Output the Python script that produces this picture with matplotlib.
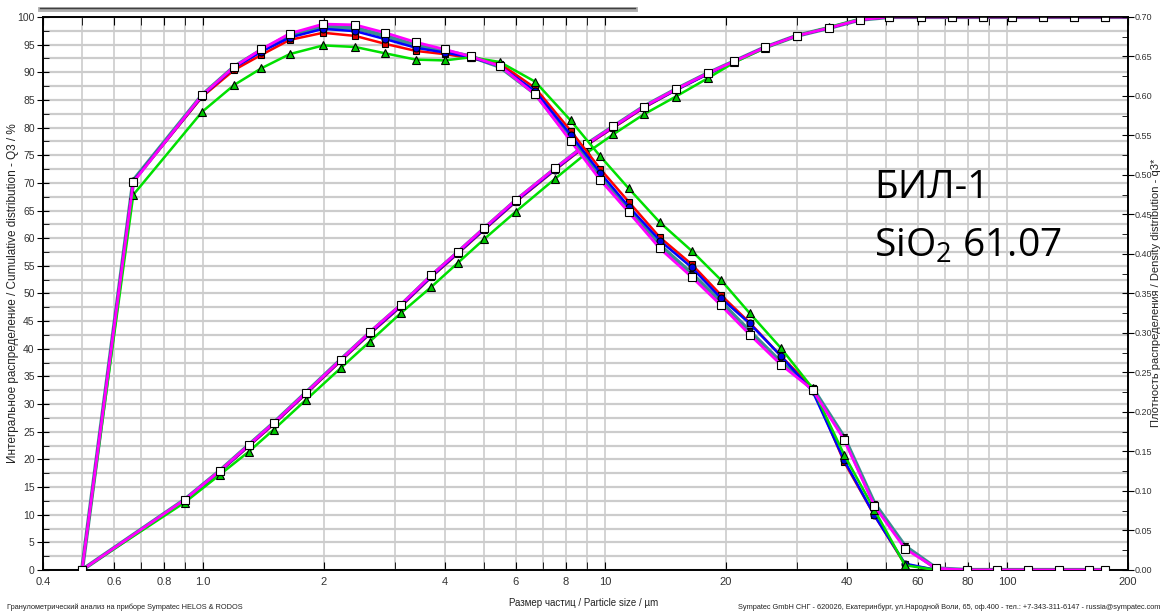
import numpy as np
import matplotlib
matplotlib.use("Agg")
import matplotlib.pyplot as plt
from matplotlib.lines import Line2D
from matplotlib.ticker import FixedLocator, FixedFormatter, LogLocator, MultipleLocator, FormatStrFormatter, NullFormatter

plt.rcParams["font.family"] = ["Liberation Sans Narrow", "Liberation Sans", "DejaVu Sans"]
plt.rcParams["mathtext.fontset"] = "custom"
plt.rcParams["mathtext.rm"] = "Open Sans"
plt.rcParams["mathtext.default"] = "regular"

# class upper bounds, µm (cumulative Q3 is plotted at these)
size_bounds = [0.5, 0.9, 1.1, 1.3, 1.5, 1.8, 2.2, 2.6, 3.1, 3.7, 4.3, 5.0, 6.0, 7.5, 9.0, 10.5,
               12.5, 15.0, 18.0, 21.0, 25.0, 30.0, 36.0, 43.0, 51.0, 61.0, 73.0, 87.0, 103.0,
               123.0, 147.0, 175.0]

# cumulative distribution Q3, %
cum_red = [0, 12.6, 17.8, 22.4, 26.4, 31.8, 37.8, 42.7, 47.6, 53.0, 57.2, 61.5, 66.6, 72.3, 76.8,
           80.0, 83.6, 86.8, 89.7, 92.0, 94.5, 96.6, 98.0, 99.5, 100, 100, 100, 100, 100, 100, 100, 100]
cum_blue = [0, 12.6, 17.8, 22.5, 26.5, 31.9, 37.9, 42.8, 47.7, 53.1, 57.3, 61.6, 66.7, 72.4, 76.9,
            80.1, 83.7, 86.8, 89.7, 92.0, 94.5, 96.6, 98.0, 99.5, 100, 100, 100, 100, 100, 100, 100, 100]
cum_teal = [0, 12.7, 17.9, 22.6, 26.6, 32.0, 38.0, 42.9, 47.8, 53.2, 57.4, 61.7, 66.8, 72.5, 77.0,
            80.2, 83.8, 86.9, 89.8, 92.0, 94.5, 96.6, 98.0, 99.5, 100, 100, 100, 100, 100, 100, 100, 100]
cum_green = [0, 12.2, 17.2, 21.4, 25.4, 30.7, 36.5, 41.3, 46.4, 51.2, 55.5, 59.8, 64.8, 70.7, 75.4,
             78.8, 82.4, 85.6, 88.9, 91.8, 94.4, 96.6, 98.1, 99.6, 100, 100, 100, 100, 100, 100, 100, 100]
cum_magenta = [0, 12.7, 17.9, 22.6, 26.6, 32.0, 38.0, 43.0, 47.9, 53.3, 57.5, 61.8, 66.9, 72.6, 77.0,
               80.2, 83.8, 86.9, 89.8, 92.0, 94.5, 96.6, 98.0, 99.5, 100, 100, 100, 100, 100, 100, 100, 100]

# density distribution q3* (plotted at geometric class means)
dens_red = [0.492, 0.599, 0.633, 0.652, 0.671, 0.680, 0.676, 0.666, 0.657, 0.653, 0.648, 0.641, 0.610,
            0.556, 0.508, 0.466, 0.421, 0.387, 0.348, 0.313, 0.271, 0.230, 0.137, 0.069, 0.007, 0.0,
            0.0, 0.0, 0.0, 0.0, 0.0]
dens_blue = [0.492, 0.600, 0.636, 0.656, 0.674, 0.685, 0.682, 0.672, 0.661, 0.655, 0.649, 0.638, 0.606,
             0.551, 0.503, 0.460, 0.417, 0.383, 0.344, 0.312, 0.271, 0.226, 0.139, 0.069, 0.008, 0.0,
             0.0, 0.0, 0.0, 0.0, 0.0]
dens_teal = [0.493, 0.601, 0.637, 0.658, 0.677, 0.688, 0.686, 0.676, 0.664, 0.657, 0.650, 0.637, 0.603,
             0.546, 0.497, 0.455, 0.411, 0.375, 0.339, 0.302, 0.263, 0.230, 0.168, 0.084, 0.030, 0.002,
             0.0, 0.0, 0.0, 0.0, 0.0]
dens_green = [0.475, 0.580, 0.614, 0.635, 0.653, 0.664, 0.662, 0.654, 0.646, 0.645, 0.649, 0.643, 0.618,
              0.569, 0.524, 0.483, 0.440, 0.404, 0.367, 0.325, 0.281, 0.230, 0.146, 0.076, 0.006, 0.0,
              0.0, 0.0, 0.0, 0.0, 0.0]
dens_magenta = [0.491, 0.601, 0.637, 0.659, 0.679, 0.691, 0.690, 0.680, 0.668, 0.659, 0.650, 0.638, 0.602,
                0.543, 0.494, 0.453, 0.407, 0.371, 0.335, 0.298, 0.260, 0.228, 0.165, 0.081, 0.027, 0.002,
                0.0, 0.0, 0.0, 0.0, 0.0]

x_ticks = [0.4, 0.6, 0.8, 1.0, 2, 4, 6, 8, 10, 20, 40, 60, 80, 100, 200]
x_tick_labels = ["0.4", "0.6", "0.8", "1.0", "2", "4", "6", "8", "10", "20", "40", "60", "80", "100", "200"]

# (color, linewidth, marker, marker face, marker size)
styles = {
    "teal": ("#3b8f8f", 3.0, "v", "#1a1a1a", 4),
    "red": ("#ff0000", 1.8, "s", "#e00000", 5),
    "blue": ("#0000ff", 1.8, "o", "#0000e0", 5),
    "green": ("#00e000", 1.8, "^", "#00c800", 6),
    "magenta": ("#ff00ff", 2.0, "s", "white", 6),
}
cum = {"teal": cum_teal, "red": cum_red, "blue": cum_blue, "green": cum_green, "magenta": cum_magenta}
dens = {"teal": dens_teal, "red": dens_red, "blue": dens_blue, "green": dens_green, "magenta": dens_magenta}

bounds = np.array(size_bounds)
means = np.sqrt(bounds[:-1] * bounds[1:])
dens_x = np.concatenate([[bounds[0]], means, [bounds[-1]]])
cum_x = np.concatenate([bounds, [200.0]])

fig = plt.figure(figsize=(11.64, 6.15), dpi=100)
ax = fig.add_axes([0.037, 0.0732, 0.932, 0.8992])
ax2 = ax.twinx()

for name in ["teal", "red", "blue", "green", "magenta"]:
    color, lw, mk, mface, ms = styles[name]
    ax.plot(cum_x, list(cum[name]) + [100], color=color, lw=lw, marker=mk, mfc=mface, mec="black",
            mew=0.8, ms=ms, markevery=list(range(len(bounds))), zorder=3)
    ax2.plot(dens_x, [0.0] + list(dens[name]) + [0.0], color=color, lw=lw, marker=mk, mfc=mface,
             mec="black", mew=0.8, ms=ms, zorder=3)

ax.set_xscale("log")
ax.set_xlim(0.4, 200)
ax.set_ylim(0, 100)
ax2.set_ylim(0, 0.70)

ax.xaxis.set_major_locator(FixedLocator(x_ticks))
ax.xaxis.set_major_formatter(FixedFormatter(x_tick_labels))
ax.xaxis.set_minor_locator(LogLocator(base=10, subs=np.arange(1, 10)))
ax.xaxis.set_minor_formatter(NullFormatter())
ax.yaxis.set_major_locator(MultipleLocator(5))
ax.yaxis.set_minor_locator(MultipleLocator(2.5))
ax2.yaxis.set_major_locator(MultipleLocator(0.05))
ax2.yaxis.set_minor_locator(MultipleLocator(0.025))
ax2.yaxis.set_major_formatter(FormatStrFormatter("%.2f"))

ax.grid(True, which="both", axis="x", color="#cccccc", lw=1.2)
ax.grid(True, which="both", axis="y", color="#cccccc", lw=1.6)
ax.set_axisbelow(True)

ax.tick_params(axis="x", which="both", direction="in", top=True, length=6, labelsize=8,
               labelcolor="#333333", pad=5)
ax.tick_params(axis="y", which="major", direction="inout", length=8, labelsize=7.5, labelcolor="#333333",
               pad=2)
ax.tick_params(axis="y", which="minor", direction="in", length=4)
ax2.tick_params(axis="y", which="major", direction="inout", length=8, labelsize=6.5, labelcolor="#333333",
                pad=1)
ax2.tick_params(axis="y", which="minor", direction="in", length=4)
for a in (ax, ax2):
    for spine in a.spines.values():
        spine.set_linewidth(1.2)

fig.text(0.011, 0.524, "Интегральное распределение / Cumulative distribution - Q3 / %", rotation=90,
         ha="center", va="center", fontsize=8.5, color="#222222")
fig.text(0.9935, 0.524, "Плотность распределения / Density distribution - q3*", rotation=90,
         ha="center", va="center", fontsize=8, color="#222222")
fig.text(0.501, 0.020, "Размер частиц / Particle size / µm", ha="center", va="center", fontsize=7,
         color="#222222")
fig.text(0.006, 0.012, "Гранулометрический анализ на приборе Sympatec HELOS & RODOS", ha="left",
         va="center", fontsize=5.3, color="#222222")
fig.text(0.997, 0.012, "Sympatec GmbH СНГ - 620026, Екатеринбург, ул.Народной Воли, 65, оф.400 - тел.: "
         "+7-343-311-6147 - russia@sympatec.com", ha="right", va="center", fontsize=5.3, color="#222222")

fig.text(0.751, 0.678, "БИЛ-1", fontsize=28, family=["Open Sans", "DejaVu Sans"], color="black")
fig.text(0.751, 0.582, "SiO$_2$ 61.07", fontsize=28, family=["Open Sans", "DejaVu Sans"], color="black")

# scroll bar strip at the top of the window
fig.add_artist(Line2D([40 / 1164, 635 / 1164], [1 - 9 / 615, 1 - 9 / 615], transform=fig.transFigure,
                      color="#b0b0b0", lw=3.5))
fig.add_artist(Line2D([40 / 1164, 635 / 1164], [1 - 7.5 / 615, 1 - 7.5 / 615], transform=fig.transFigure,
                      color="#404040", lw=1.0))

fig.savefig("out.png", dpi=100, facecolor="white")
